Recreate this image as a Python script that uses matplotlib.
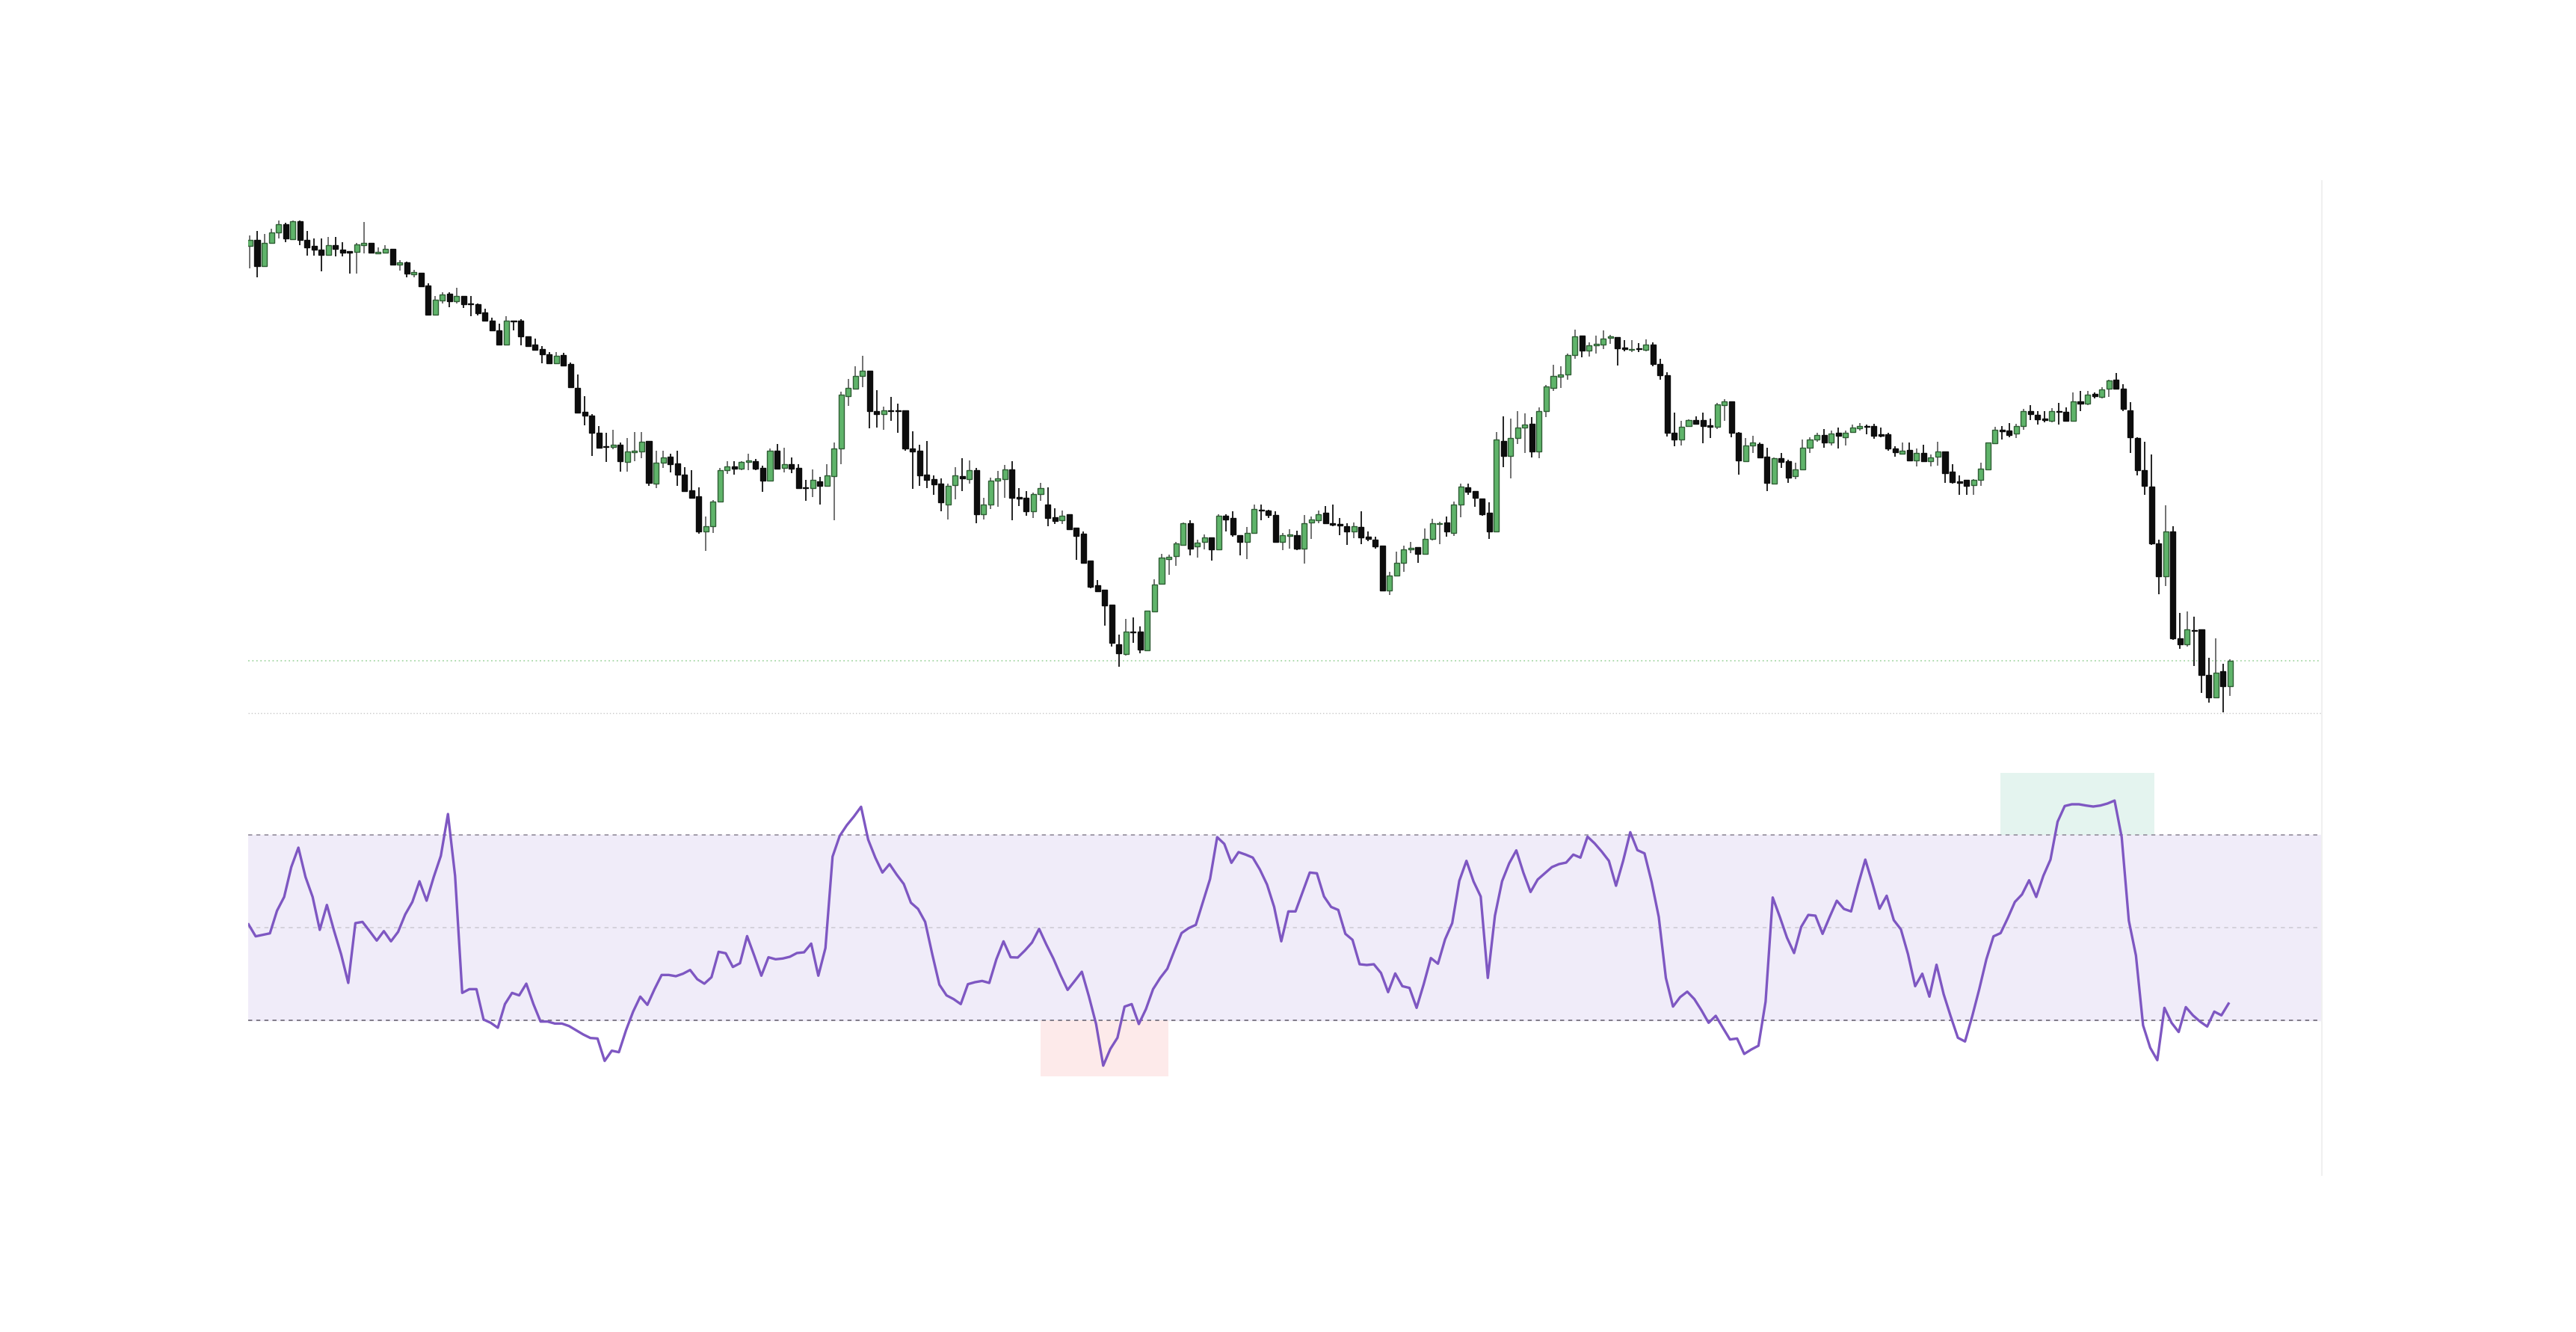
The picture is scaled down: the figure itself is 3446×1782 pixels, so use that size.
import matplotlib
matplotlib.use("Agg")
import matplotlib.pyplot as plt
from matplotlib.lines import Line2D
from matplotlib.patches import Rectangle

# candle data, in picture pixel units (smaller = higher price)
body_top = [115,115,122,92,68,68,57,57,115,132, 144,130,130,142,148,128,122,124,150,141,
            140,182,182,211,212,251,294,277,275,281, 281,305,307,332,355,385,357,355,357,404,
            428,442,456,461,458,485,557,629,640,692, 733,728,727,748,746,719,717,781,766,764,
            784,818,865,883,971,898,805,792,792,780, 775,777,797,746,746,785,786,797,855,833,
            837,820,739,578,558,521,507,507,627,624, 624,625,624,738,746,818,831,845,851,820,
            822,805,805,906,836,829,802,802,885,886, 875,858,907,945,940,937,977,995,1075,1149,
            1163,1208,1325,1288,1287,1287,1226,1147,1066,1063, 1023,963,962,1021,1006,1005,941,941,948,998,
            992,920,922,926,938,999,996,998,962,951, 935,932,964,966,973,973,975,1003,1012,1030,
            1120,1082,1042,1036,1035,1009,962,962,960,908, 853,856,867,888,932,713,717,707,677,668,
            665,627,553,522,518,458,403,401,429,426, 409,404,405,437,440,438,427,427,486,520,
            692,674,654,653,654,671,606,597,597,691, 731,722,725,763,769,768,776,801,737,711,
            698,699,695,693,691,677,672,672,672,697, 697,739,745,744,753,753,765,748,749,808,
            839,833,834,800,721,682,684,686,671,626, 627,638,650,628,628,630,597,597,577,575,
            561,535,532,560,625,707,803,853,1024,987, 988,1308,1282,1283,1281,1418,1410,1407,1375]
body_bot = [132,192,192,122,92,110,112,115,136,143, 158,158,141,151,151,149,129,152,155,151,
            188,188,214,218,252,337,337,295,297,297, 306,306,333,355,386,427,427,358,404,431,
            443,456,483,484,491,555,631,641,693,736, 735,734,777,779,751,749,843,845,781,787,
            817,866,886,987,987,971,899,804,800,800, 780,800,835,835,800,798,800,858,858,858,
            852,852,822,740,583,560,521,628,635,635, 627,627,740,747,820,832,846,901,906,848,
            828,830,935,935,907,836,830,886,888,927, 927,876,947,956,955,980,1000,1082,1153,1166,
            1210,1322,1352,1355,1290,1342,1343,1227,1145,1070, 1061,1027,1040,1033,1020,1042,1041,952,997,1020,
            1020,992,925,939,1020,1018,1000,1040,1040,960, 953,964,967,969,987,988,1005,1009,1032,1164,
            1164,1120,1082,1042,1055,1055,1009,966,988,992, 907,868,887,935,987,987,762,761,708,677,
            747,747,628,557,523,518,458,446,445,430, 427,408,438,442,443,441,443,485,520,693,
            712,713,672,664,672,673,674,610,691,774, 777,730,765,843,845,779,826,822,801,736,
            713,720,720,701,706,690,679,674,700,700, 740,751,754,774,774,777,777,764,812,840,
            841,852,848,834,802,723,687,698,694,672, 635,651,653,657,629,655,657,605,605,583,
            585,560,560,621,705,803,852,1024,1122,1122, 1307,1325,1325,1285,1418,1485,1485,1452,1452]
wick_top = [100,88,97,80,55,63,55,55,88,110, 110,105,105,120,148,122,60,124,137,130,
            140,175,180,203,212,245,283,270,270,257, 281,283,305,320,348,365,343,355,352,404,
            410,432,450,450,452,482,517,582,635,672, 692,684,722,708,690,690,717,745,745,755,
            745,795,805,855,942,893,797,776,778,778, 755,770,790,740,726,737,765,787,833,802,
            825,786,720,568,530,492,462,507,564,614, 585,605,624,688,727,717,820,828,845,794,
            768,775,798,886,826,806,788,777,857,867, 872,842,856,918,925,937,977,987,1075,1133,
            1163,1208,1297,1250,1245,1272,1226,1130,1055,1057, 1020,960,955,1013,996,1005,937,937,927,998,
            975,907,908,923,927,993,980,986,938,942, 925,911,906,948,963,960,927,988,1003,1030,
            1108,1048,1030,1020,1035,978,950,958,942,898, 845,845,867,888,900,690,643,650,628,633,
            645,615,548,487,492,455,382,400,420,400, 385,398,405,414,414,424,412,420,471,510,
            632,657,651,642,632,650,602,592,597,690, 708,702,720,737,765,752,773,781,712,705,
            693,680,685,676,685,668,662,668,665,677, 692,733,720,720,738,727,758,718,747,785,
            820,833,830,781,721,675,672,663,666,620, 610,626,627,617,603,615,572,567,567,571,
            556,532,513,547,600,705,718,758,1013,910, 973,1232,1227,1243,1281,1367,1307,1385,1370]
wick_bot = [198,225,195,125,110,120,112,130,160,160, 208,160,163,163,214,214,155,155,156,152,
            190,205,225,225,254,337,337,305,315,305, 318,343,340,357,388,428,430,385,430,432,
            445,484,484,486,493,558,632,670,762,740, 780,742,808,808,776,767,852,857,797,810,
            850,870,888,995,1045,993,899,815,818,803, 803,805,870,835,800,810,812,860,895,885,
            907,852,955,787,612,560,556,679,677,684, 657,693,745,860,850,858,878,927,951,892,
            866,845,964,951,921,913,887,955,911,940, 947,895,973,965,965,980,1073,1085,1158,1168,
            1270,1333,1393,1360,1322,1353,1343,1230,1145,1118, 1090,1027,1060,1067,1041,1075,1041,987,1003,1060,
            1070,992,955,948,1020,1043,1040,1043,1083,1010, 962,964,973,998,1028,1008,1025,1016,1040,1164,
            1177,1120,1108,1053,1082,1055,1014,1025,1003,1002, 945,878,913,940,1011,990,796,828,725,752,
            766,767,644,566,557,532,470,465,463,455, 442,425,490,448,450,449,448,492,533,703,
            732,730,675,668,724,707,680,655,706,818, 777,752,765,866,845,798,842,830,803,752,
            718,737,730,738,730,693,686,697,710,705, 745,764,757,777,792,778,792,790,842,845,
            878,878,878,850,802,725,712,705,707,683, 653,668,660,660,667,658,657,628,610,588,
            588,585,560,628,752,820,878,1027,1175,1152, 1312,1340,1333,1390,1472,1500,1485,1530,1480]
is_up = [1,0,1,1,1,0,1,0,0,0, 0,1,0,0,0,1,1,0,1,1, 0,1,0,1,0,0,1,1,0,1, 0,0,0,0,0,0,1,0,0,0,
         0,0,0,1,0,0,0,0,0,0, 0,1,0,1,1,1,0,1,1,0, 0,0,0,0,1,1,1,1,0,1, 1,0,0,1,0,1,0,0,0,1,
         0,1,1,1,1,1,1,0,0,1, 0,0,0,0,0,0,0,0,1,1, 0,1,0,1,1,1,1,0,0,0, 1,1,0,0,1,0,0,0,0,0,
         0,0,0,1,0,0,1,1,1,1, 1,1,0,1,1,0,1,0,0,0, 1,1,0,0,0,1,1,0,1,1, 1,0,0,0,0,1,0,0,0,0,
         1,1,1,1,0,1,1,1,0,1, 1,0,0,0,0,1,0,1,1,1, 0,1,1,1,1,1,1,0,1,1, 1,1,0,0,1,0,1,0,0,0,
         0,1,1,0,0,0,1,1,0,0, 1,1,0,0,1,0,0,1,1,1, 1,0,1,0,1,1,1,0,0,0, 0,0,1,0,1,0,1,1,0,0,
         0,0,1,1,1,1,0,0,1,1, 0,0,0,1,0,0,1,0,1,0, 1,1,0,0,0,0,0,0,0,1, 0,0,1,0,0,0,1,0,1]

# RSI line, picture pixel units of the zoomed crop (543 = 50, 18.6 px per point)
rsi_px = [530,578,572,566,475,420,300,222,340,420, 552,452,555,650,765,525,520,557,595,557,
          598,560,490,440,357,435,340,255,87,335, 805,790,790,912,925,945,850,805,815,768,
          850,920,920,928,928,938,955,972,986,988, 1078,1037,1043,955,880,820,853,790,733,733,
          738,728,713,750,768,742,640,646,701,686, 577,655,736,662,670,667,660,645,642,607,
          736,625,258,175,132,97,58,190,262,322, 288,330,368,443,468,520,650,772,815,830,
          850,770,762,757,765,670,598,662,663,635, 603,548,610,667,733,793,757,720,820,930,
          1097,1030,985,860,850,930,870,790,745,708, 635,565,545,532,440,348,180,207,283,240,
          250,262,310,370,460,598,478,478,400,322, 325,418,460,472,568,592,690,693,690,725,
          802,727,778,785,865,770,665,688,590,525, 355,275,358,418,745,495,357,285,233,323,
          400,350,325,300,288,282,250,262,178,205, 238,275,375,275,160,232,245,360,500,745,
          860,822,800,830,875,925,897,945,992,988, 1050,1032,1017,840,422,500,583,645,540,492,
          495,568,500,435,468,478,370,270,365,467, 415,513,550,650,778,728,820,692,810,900,
          985,1000,900,790,670,578,565,505,440,410, 353,420,335,270,118,55,48,48,53,57,
          53,45,33,180,515,655,935,1025,1075,865, 925,962,862,895,920,940,880,895,848]

rsi_upper, rsi_mid, rsi_lower = 70, 50, 30
oversold_span = (111.2, 129.1, 17.9)    # x from, x to, bottom value
overbought_span = (246.0, 267.6, 83.4)  # x from, x to, top value


def to_price(v):
    return (1600 - v) / 10.0


def to_rsi(v):
    return 50 + (543 - v) / 18.6


n = min(len(body_top), len(body_bot), len(wick_top), len(wick_bot), len(is_up))
W, H = 3446, 1782
fig = plt.figure(figsize=(W / 100, H / 100), dpi=100)
left, right = 332 / W, 3106 / W
y_sep = 1 - 954 / H
ax_p = fig.add_axes([left, y_sep, right - left, (954 - 242) / H])
ax_r = fig.add_axes([left, 1 - 1572 / H, right - left, (1572 - 954) / H])

green, green_edge = "#5fb46a", "#2f5d34"
for i in range(n):
    top, bot = to_price(body_top[i]), to_price(body_bot[i])
    hi, lo = to_price(wick_top[i]), to_price(wick_bot[i])
    up = is_up[i] == 1
    ax_p.vlines(i, lo, hi, color="#666666" if up else "#111111", lw=1.3, zorder=1)
    ax_p.bar(i, max(top - bot, 0.25), bottom=bot, width=0.74,
             color=green if up else "#0d0d0d", edgecolor=green_edge if up else "#0d0d0d",
             linewidth=1.0, zorder=2)

last_close = to_price(body_top[n - 1] if is_up[n - 1] else body_bot[n - 1])
ax_p.axhline(last_close, color="#a8d8a8", lw=1.3, ls=(0, (1, 2)), zorder=0)
ax_p.set_xlim(-0.26, 290.9)
ax_p.set_ylim(to_price(1532), to_price(-63))

rsi = [to_rsi(v) for v in rsi_px]
xs = list(range(len(rsi)))
ax_r.axhspan(rsi_lower, rsi_upper, color="#f0ecf9", zorder=0)
ax_r.add_patch(Rectangle((oversold_span[0], oversold_span[2]), oversold_span[1] - oversold_span[0],
                         rsi_lower - oversold_span[2], color="#fdeaea", lw=0, zorder=0))
ax_r.add_patch(Rectangle((overbought_span[0], rsi_upper), overbought_span[1] - overbought_span[0],
                         overbought_span[2] - rsi_upper, color="#e4f4ef", lw=0, zorder=0))
ax_r.axhline(rsi_upper, color="#9a95a3", lw=1.3, ls=(0, (3, 3)), zorder=1)
ax_r.axhline(rsi_lower, color="#77727f", lw=1.3, ls=(0, (3, 3)), zorder=1)
ax_r.axhline(rsi_mid, color="#d2cfd8", lw=1.3, ls=(0, (3, 3)), zorder=1)
ax_r.plot(xs, rsi, color="#7e57c2", lw=2.4, zorder=3)
ax_r.set_xlim(-0.05, 291.1)
ax_r.set_ylim(30 - (1572 - 1365) / 6.2, 70 + (1117 - 954) / 6.2)

for ax in (ax_p, ax_r):
    ax.set_xticks([])
    ax.set_yticks([])
    for s in ax.spines.values():
        s.set_visible(False)
    ax.patch.set_alpha(0)

# separator and right border
fig.add_artist(Line2D([left, right], [y_sep, y_sep], color="#c8c8c8", lw=1.0, ls=(0, (1, 2))))
fig.add_artist(Line2D([right, right], [1 - 1572 / H, 1 - 242 / H], color="#f0f0f0", lw=1.5))

fig.savefig("out.png", dpi=100, facecolor="white")
